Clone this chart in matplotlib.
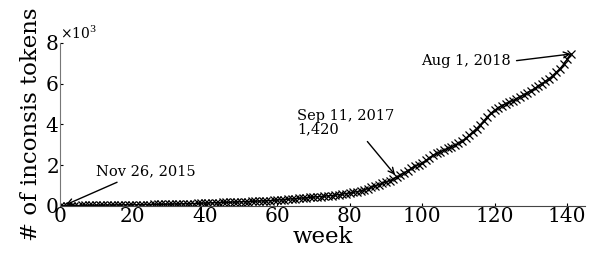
import numpy as np
import matplotlib.pyplot as plt
from matplotlib.ticker import ScalarFormatter

plt.rcParams['font.family'] = 'DejaVu Serif'
plt.rcParams['mathtext.fontset'] = 'dejavuserif'

# cumulative number of inconsistent tokens per week
tokens = [
    0, 5, 8, 12, 15, 18, 20, 22, 25, 27, 30, 32, 34, 36, 38, 40, 42, 44, 47, 50,
    52, 55, 58, 60, 63, 66, 70, 73, 76, 80, 84, 88, 92, 96, 100, 105, 110, 115, 120, 130,
    140, 145, 150, 156, 162, 168, 174, 180, 186, 192, 198, 205, 212, 220, 228, 236, 244, 252, 262, 275,
    290, 300, 312, 325, 340, 355, 370, 385, 400, 415, 430, 445, 460, 475, 490, 510, 530, 555, 580, 605,
    635, 665, 700, 740, 790, 850, 910, 980, 1050, 1110, 1170, 1240, 1320, 1420, 1520, 1620, 1730, 1840, 1950, 2030,
    2100, 2230, 2360, 2480, 2580, 2660, 2740, 2820, 2900, 2980, 3070, 3180, 3320, 3480, 3640, 3800, 3980, 4180, 4380, 4560,
    4700, 4820, 4930, 5020, 5100, 5170, 5260, 5360, 5460, 5560, 5660, 5770, 5880, 6000, 6120, 6240, 6400, 6570, 6730, 6950,
    7200, 7460,
]
weeks = np.arange(len(tokens))

notes = ["Nov 26, 2015", "Sep 11, 2017\n1,420", "Aug 1, 2018"]
note_weeks = [1, 93, 141]

fig = plt.figure(figsize=(6.04, 2.59), dpi=100)
ax = fig.add_axes([0.099, 0.205, 0.87, 0.629])

ax.plot(weeks, tokens, "k-", marker="x", markersize=5.5, markeredgewidth=0.9, linewidth=1)

ax.set_xlim(0, 145)
ax.set_ylim(0, 8000)
ax.set_xticks([0, 20, 40, 60, 80, 100, 120, 140])
ax.set_yticks([0, 2000, 4000, 6000, 8000])

fmt = ScalarFormatter(useMathText=True)
fmt.set_powerlimits((0, 0))
ax.yaxis.set_major_formatter(fmt)
ax.yaxis.get_offset_text().set_fontsize(10)

ax.tick_params(labelsize=14.5, length=2, pad=1, direction="in")
ax.set_xlabel("week", fontsize=16.5, labelpad=0)
ax.set_ylabel("# of inconsis tokens", fontsize=16.5, labelpad=2)

ax.spines["top"].set_visible(False)
ax.spines["right"].set_visible(False)
ax.spines["left"].set_color("#777777")
ax.spines["bottom"].set_color("#444444")

ax.annotate(notes[0], xy=(note_weeks[0], tokens[note_weeks[0]]), xytext=(10, 1500),
            fontsize=10.5,
            arrowprops=dict(arrowstyle="->", color="black", lw=1, relpos=(0.3, 0)))
ax.annotate(notes[1], xy=(note_weeks[1], tokens[note_weeks[1]]), xytext=(65.5, 3550),
            fontsize=10.5, linespacing=1.0,
            arrowprops=dict(arrowstyle="->", color="black", lw=1, relpos=(0.68, 0)))
ax.annotate(notes[2], xy=(note_weeks[2], tokens[note_weeks[2]]), xytext=(124.5, 7100),
            fontsize=10.5, ha="right", va="center",
            arrowprops=dict(arrowstyle="->", color="black", lw=1, relpos=(1, 0.5), shrinkB=0))

plt.savefig("out.png", dpi=100)
